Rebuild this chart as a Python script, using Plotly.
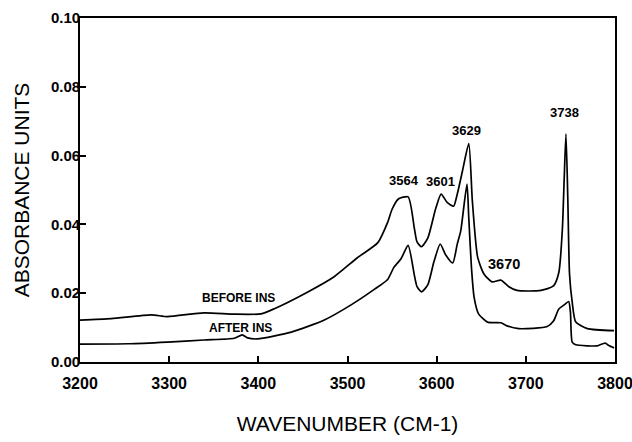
import plotly.graph_objects as go

# ---- data ----
before_wn = [3200, 3235, 3280, 3298, 3339, 3373, 3403, 3418, 3455, 3485, 3511, 3534, 3545,
             3550, 3557, 3568, 3575, 3578, 3583, 3590, 3599, 3605, 3612, 3619, 3623, 3629,
             3636, 3640, 3646, 3653, 3662, 3672, 3681, 3690, 3717, 3731, 3737, 3741, 3743,
             3745, 3747, 3749, 3752, 3756, 3769, 3799]
before_abs = [0.0122, 0.0126, 0.0137, 0.0132, 0.0143, 0.0139, 0.0140, 0.0155, 0.0203, 0.0248,
              0.0303, 0.0347, 0.0406, 0.0444, 0.0474, 0.0480, 0.0388, 0.0349, 0.0335, 0.0360,
              0.0447, 0.0488, 0.0463, 0.0453, 0.0487, 0.0556, 0.0635, 0.0469, 0.0304, 0.0256,
              0.0233, 0.0238, 0.0219, 0.0208, 0.0208, 0.0221, 0.0260, 0.0387, 0.0532, 0.0663,
              0.0484, 0.0256, 0.0174, 0.0116, 0.0097, 0.0091]

after_wn = [3200, 3254, 3298, 3339, 3373, 3382, 3388, 3399, 3437, 3474, 3504, 3530, 3545,
            3552, 3560, 3568, 3575, 3578, 3583, 3590, 3597, 3604, 3610, 3618, 3623, 3627,
            3634, 3636, 3639, 3642, 3647, 3657, 3672, 3679, 3692, 3724, 3731, 3737, 3743,
            3748, 3750, 3752, 3756, 3769, 3780, 3789, 3793, 3799]
after_abs = [0.0052, 0.0053, 0.0058, 0.0064, 0.0069, 0.0079, 0.0070, 0.0067, 0.0087, 0.0122,
             0.0166, 0.0211, 0.0240, 0.0275, 0.0300, 0.0339, 0.0252, 0.0219, 0.0204, 0.0224,
             0.0292, 0.0343, 0.0312, 0.0288, 0.0342, 0.0381, 0.0517, 0.0420, 0.0275, 0.0188,
             0.0140, 0.0116, 0.0114, 0.0105, 0.0097, 0.0103, 0.0119, 0.0154, 0.0166, 0.0176,
             0.0145, 0.0058, 0.0050, 0.0047, 0.0047, 0.0055, 0.0048, 0.0041]

peak_labels = ["3564", "3601", "3629", "3670", "3738"]
peak_label_x = [3563, 3604.5, 3633, 3675, 3743]
peak_label_y = [0.0528, 0.0524, 0.0672, 0.0286, 0.0724]
peak_label_size = [13, 13, 13, 14.5, 13]

series_labels = ["BEFORE INS", "AFTER INS"]
series_label_x = [3378, 3380]
series_label_y = [0.0185, 0.0100]

x_ticks = [3200, 3300, 3400, 3500, 3600, 3700, 3800]
y_ticks = [0.00, 0.02, 0.04, 0.06, 0.08, 0.10]
y_tick_text = ["0.00", "0.02", "0.04", "0.06", "0.08", "0.10"]

FONT = "Liberation Sans, Arial, Helvetica, sans-serif"

fig = go.Figure()
fig.add_trace(go.Scatter(x=before_wn, y=before_abs, mode="lines", name="BEFORE INS",
                         line=dict(color="black", width=1.7, shape="spline", smoothing=0.6)))
fig.add_trace(go.Scatter(x=after_wn, y=after_abs, mode="lines", name="AFTER INS",
                         line=dict(color="black", width=1.7, shape="spline", smoothing=0.6)))

for t, x, y, s in zip(peak_labels, peak_label_x, peak_label_y, peak_label_size):
    fig.add_annotation(x=x, y=y, text="<b>%s</b>" % t, showarrow=False,
                       font=dict(family=FONT, size=s, color="black"))
for t, x, y in zip(series_labels, series_label_x, series_label_y):
    fig.add_annotation(x=x, y=y, text="<b>%s</b>" % t, showarrow=False,
                       font=dict(family=FONT, size=12, color="black"))

fig.update_layout(
    width=632, height=442,
    margin=dict(l=80, r=17, t=18, b=80),
    paper_bgcolor="white", plot_bgcolor="white",
    showlegend=False,
    font=dict(family=FONT, color="black"),
)
fig.update_xaxes(
    range=[3200, 3800], tickvals=x_ticks, ticktext=["<b>%d</b>" % v for v in x_ticks],
    ticks="inside", ticklen=6, tickwidth=1.5, tickcolor="black",
    showline=True, linecolor="black", linewidth=1.8, mirror=True,
    showgrid=False, zeroline=False, automargin=False, ticklabeloverflow="allow",
    tickfont=dict(family=FONT, size=16, color="black"), ticklabelstandoff=6,
    title=dict(text="WAVENUMBER (CM-1)", font=dict(family=FONT, size=21, color="black"),
               standoff=25),
)
fig.update_yaxes(
    range=[0, 0.10], tickvals=y_ticks, ticktext=["<b>%s</b>" % v for v in y_tick_text],
    ticks="inside", ticklen=6, tickwidth=1.5, tickcolor="black",
    showline=True, linecolor="black", linewidth=1.8, mirror=True,
    showgrid=False, zeroline=False, automargin=False, ticklabeloverflow="allow",
    tickfont=dict(family=FONT, size=15, color="black"), ticklabelstandoff=-5,
    title=dict(text="ABSORBANCE UNITS", font=dict(family=FONT, size=21, color="black"),
               standoff=16),
)

fig.write_html("out.html", config={"displayModeBar": False},
               post_script="document.body.style.margin='0';document.body.style.padding='0';")
